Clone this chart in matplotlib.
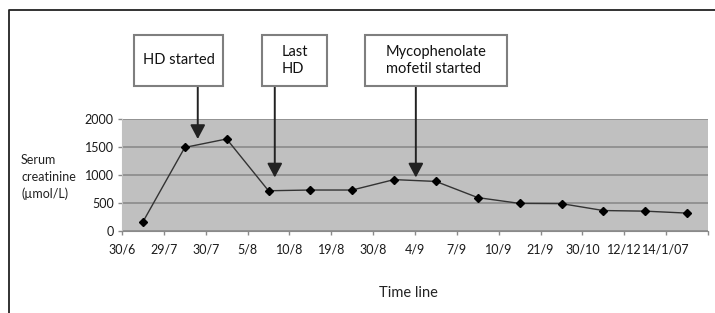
import matplotlib
matplotlib.use("Agg")
import matplotlib.pyplot as plt
from matplotlib.lines import Line2D
from matplotlib.patches import Rectangle

plt.rcParams['font.family'] = ['Lato', 'DejaVu Sans']

# data
dates = ["30/6", "29/7", "30/7", "5/8", "10/8", "19/8", "30/8", "4/9",
         "7/9", "10/9", "21/9", "30/10", "12/12", "14/1/07"]
creatinine = [155, 1490, 1642, 713, 726, 726, 913, 880,
              590, 486, 482, 358, 347, 312]

# events: label, arrow tip (category position, value)
events = ["HD started", "Last\nHD", "Mycophenolate\nmofetil started"]
event_x = [1.81, 3.65, 7.02]
event_y = [1640, 950, 950]

W, H = 715, 313
fig = plt.figure(figsize=(W / 100, H / 100), dpi=100)

# plot area in pixels (left, top, right, bottom)
pl, pt, pr, pb = 122, 119, 708, 230.5
ax = fig.add_axes([pl / W, 1 - pb / H, (pr - pl) / W, (pb - pt) / H])
ax.set_facecolor('#c0c0c0')

xs = [i + 0.5 for i in range(len(dates))]
ax.plot(xs, creatinine, color='#333333', lw=1.0, marker='D', ms=4.5,
        mfc='black', mec='black', zorder=3)

ax.set_xlim(0, len(dates))
ax.set_ylim(0, 2000)
ax.set_yticks([0, 500, 1000, 1500, 2000])
ax.set_xticks(range(len(dates) + 1))
ax.set_xticklabels(dates + [""])
ax.grid(axis='y', color='#8a8a8a', lw=1.2)
ax.set_axisbelow(True)
for s in ['top', 'right']:
    ax.spines[s].set_visible(False)
ax.spines['left'].set_color('#c0c0c0')
ax.spines['bottom'].set_color('#8a8a8a')
ax.tick_params(axis='both', colors='#8a8a8a', labelcolor='#1a1a1a',
               labelsize=9, length=3, width=1)
ax.tick_params(axis='x', pad=6)
ax.tick_params(axis='y', pad=3)
# labels sit a touch right of their ticks in the original
for lab in ax.get_xticklabels():
    lab.set_x(lab.get_position()[0])
    lab.set_horizontalalignment('center')

# outer frame (left and top edges)
fig.add_artist(Line2D([9 / W, 9 / W, 1.0], [0, 1 - 10 / H, 1 - 10 / H],
                      transform=fig.transFigure, color='#222222', lw=1.3))

# annotation boxes (left, right in px; top 35, bottom 86)
boxes = [(134, 223), (262, 327), (365, 507)]
btop, bbot = 35, 86
for (bl, br), txt, tx, ty in zip(boxes, events, event_x, event_y):
    fig.add_artist(Rectangle((bl / W, 1 - bbot / H), (br - bl) / W, (bbot - btop) / H,
                             transform=fig.transFigure, facecolor='white',
                             edgecolor='#7f7f7f', lw=1.5))
    fig.text((bl + br) / 2 / W, 1 - (btop + bbot) / 2 / H, txt, ha='center', va='center',
             multialignment='left', fontsize=10.5, color='#111111', linespacing=1.25)
    ax.annotate("", xy=(tx, ty), xycoords='data',
                xytext=(tx, 1 - bbot / H), textcoords=("data", "figure fraction"),
                arrowprops=dict(arrowstyle='-|>,head_length=0.85,head_width=0.45',
                                color='#222222', lw=1.4, shrinkA=0, shrinkB=0,
                                mutation_scale=10))

fig.text(21 / W, 1 - 177 / H, "Serum\ncreatinine\n(µmol/L)", ha='left', va='center',
         fontsize=9, color='#222222', linespacing=1.45)
fig.text(408 / W, 1 - 293 / H, "Time line", ha='center', va='center',
         fontsize=10.5, color='#222222')

fig.savefig("out.png", dpi=100)
